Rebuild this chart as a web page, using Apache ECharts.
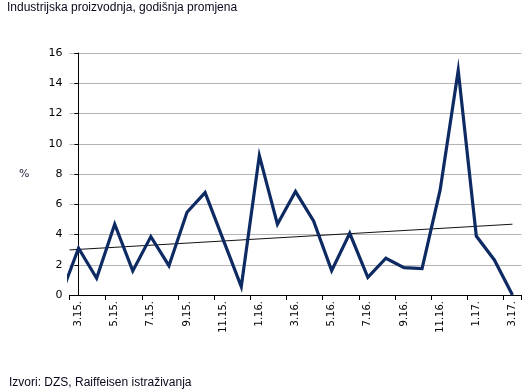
<!DOCTYPE html>
<html>
<head>
<meta charset="utf-8">
<script src="https://cdn.jsdelivr.net/npm/echarts@6/dist/echarts.min.js"></script>
<style>
html,body{margin:0;padding:0;background:#fff;}
#c{width:523px;height:392px;}
</style>
</head>
<body>
<div id="c"></div>
<script>
// Months shown on the category axis (3.15 .. 3.17)
var categories = ['3.15.','4.15.','5.15.','6.15.','7.15.','8.15.','9.15.','10.15.','11.15.','12.15.',
  '1.16.','2.16.','3.16.','4.16.','5.16.','6.16.','7.16.','8.16.','9.16.','10.16.','11.16.','12.16.',
  '1.17.','2.17.','3.17.'];
// Value for 2.15. (only its last half-segment is visible at the axis)
var prevValue = -0.1;
// Annual change, % (3.15 .. 3.17)
var values = [3.09,1.11,4.68,1.59,3.86,1.94,5.47,6.77,3.66,0.55,
  9.22,4.68,6.84,4.90,1.61,4.08,1.17,2.43,1.81,1.74,6.95,14.85,
  3.90,2.32,0.0];
// Linear trend end points (start at axis, end at 3.17.)
var trendStart = 2.98;
var trendEnd = 4.68;
var yTicks = {min:0, max:16, interval:2};

var lineData = [[-1, prevValue]];
for (var i = 0; i < values.length; i++) lineData.push([i, values[i]]);
var trendData = [[-0.5, trendStart], [values.length - 1, trendEnd]];

var chart = echarts.init(document.getElementById('c'), null, {renderer:'canvas'});
chart.setOption({
  animation:false,
  backgroundColor:'#fff',
  textStyle:{fontFamily:'DejaVu Sans'},
  title:[{
    text:'Industrijska proizvodnja, godišnja promjena',
    left:2, top:-3,
    textStyle:{fontFamily:'Liberation Sans', fontSize:12, fontWeight:'normal', color:'#0a0a1e'}
  },{
    text:'Izvori: DZS, Raiffeisen istraživanja',
    left:4, top:372,
    textStyle:{fontFamily:'Liberation Sans', fontSize:12, fontWeight:'normal', color:'#0a0a1e'}
  }],
  grid:{left:69.5, top:53, width:452, height:242, containLabel:false},
  xAxis:[{
    type:'category',
    data:categories,
    boundaryGap:true,
    axisLine:{lineStyle:{color:'#000', width:1}},
    axisTick:{show:true, interval:1, length:5, alignWithLabel:false, lineStyle:{color:'#000'}},
    axisLabel:{interval:1, rotate:90, margin:6, fontSize:10, color:'#000', fontFamily:'DejaVu Sans'},
    splitLine:{show:false}
  },{
    type:'value',
    min:-0.5, max:values.length - 0.5,
    show:false,
    splitLine:{show:false}
  }],
  yAxis:{
    type:'value',
    min:yTicks.min, max:yTicks.max, interval:yTicks.interval,
    name:'%', nameLocation:'middle', nameRotate:0, nameGap:40,
    nameTextStyle:{fontSize:11, color:'#2a2040', fontFamily:'DejaVu Sans'},
    axisLine:{show:true, lineStyle:{color:'#000', width:1}},
    axisTick:{show:true, length:4, lineStyle:{color:'#000'}},
    axisLabel:{fontSize:11, color:'#000', margin:7, fontFamily:'DejaVu Sans'},
    splitLine:{show:true, lineStyle:{color:'#b4b4b4', width:1}}
  },
  series:[{
    type:'line',
    xAxisIndex:1,
    data:trendData,
    clip:false,
    symbol:'none',
    lineStyle:{color:'#111', width:1},
    z:3
  },{
    type:'line',
    xAxisIndex:1,
    data:lineData,
    clip:true,
    symbol:'none',
    lineStyle:{color:'#0e2a63', width:3.2, join:'miter'},
    z:4
  }]
});
</script>
</body>
</html>
